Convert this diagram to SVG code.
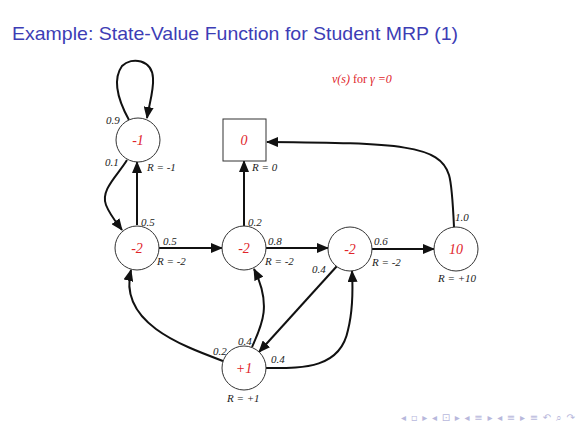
<svg xmlns="http://www.w3.org/2000/svg" width="580" height="435" viewBox="0 0 580 435">
<style>
.node{fill:#fff;stroke:#333;stroke-width:1}
.val{font-family:"Liberation Serif",serif;font-style:italic;font-size:14px;fill:#e0242a;text-anchor:middle}
.lbl{font-family:"Liberation Serif",serif;font-style:italic;font-size:11px;fill:#222}
.edge{fill:none;stroke:#111;stroke-width:2}
.nav{font-family:"DejaVu Sans",sans-serif;font-size:10px;fill:#b8b8dc}
</style>
<defs>
<marker id="arr" viewBox="0 0 12 10" refX="11" refY="5" markerWidth="12" markerHeight="10" markerUnits="userSpaceOnUse" orient="auto">
<path d="M0,0 L12,5 L0,10 z" fill="#111"/>
</marker>
</defs>
<rect width="580" height="435" fill="#fff"/>
<text x="12" y="40" font-family="Liberation Sans,sans-serif" font-size="19" fill="#3d3db5" textLength="446" lengthAdjust="spacingAndGlyphs">Example: State-Value Function for Student MRP (1)</text>
<text x="332" y="83" font-family="Liberation Serif,serif" font-size="12" fill="#e0242a"><tspan font-style="italic">v(s)</tspan> for <tspan font-style="italic">γ =0</tspan></text>
<g id="connectors">
<path class="edge" marker-end="url(#arr)" d="M129 120 C118 100,112 80,122 66 C132 56,152 60,153 78 C154 90,149 105,147 118"/>
<path class="edge" marker-end="url(#arr)" d="M127 160 C118 175,100 190,106 205 C110 215,116 222,122 230"/>
<path class="edge" marker-end="url(#arr)" d="M137 225 L137 162"/>
<path class="edge" marker-end="url(#arr)" d="M159 248 L222 248"/>
<path class="edge" marker-end="url(#arr)" d="M244 226 L244 161"/>
<path class="edge" marker-end="url(#arr)" d="M266 248 L328 248"/>
<path class="edge" marker-end="url(#arr)" d="M372 249 L434 249"/>
<path class="edge" marker-end="url(#arr)" d="M454 227 C453 205,452 185,449 175 C440 145,400 143,267 142"/>
<path class="edge" marker-end="url(#arr)" d="M337 266 L259 352"/>
<path class="edge" marker-end="url(#arr)" d="M223 361 C180 345,118 322,131 270"/>
<path class="edge" marker-end="url(#arr)" d="M252 347 C262 325,272 305,254 269"/>
<path class="edge" marker-end="url(#arr)" d="M266 368 C300 368,340 370,348 330 C353 310,353 290,352 271"/>
</g>
<g id="c1"><circle class="node" cx="138" cy="140" r="22"/><text class="val" x="138" y="145">-1</text><text class="lbl" x="147" y="171">R = -1</text></g>
<g id="sleep"><rect class="node" x="223" y="119" width="43" height="42"/><text class="val" x="244" y="145">0</text><text class="lbl" x="252" y="171">R = 0</text></g>
<g id="c2"><circle class="node" cx="137" cy="248" r="22"/><text class="val" x="137" y="253">-2</text><text class="lbl" x="157" y="265">R = -2</text></g>
<g id="c3"><circle class="node" cx="244" cy="248" r="22"/><text class="val" x="244" y="253">-2</text><text class="lbl" x="265" y="265">R = -2</text></g>
<g id="c3b"><circle class="node" cx="350" cy="249" r="22"/><text class="val" x="350" y="254">-2</text><text class="lbl" x="372" y="266">R = -2</text></g>
<g id="pass"><circle class="node" cx="456" cy="249" r="22"/><text class="val" x="456" y="254">10</text><text class="lbl" x="438" y="282">R = +10</text></g>
<g id="pub"><circle class="node" cx="244" cy="368" r="22"/><text class="val" x="244" y="373">+1</text><text class="lbl" x="227" y="402">R = +1</text></g>
<g id="edge-labels">
<text class="lbl" x="106" y="124">0.9</text>
<text class="lbl" x="105" y="166">0.1</text>
<text class="lbl" x="141" y="226">0.5</text>
<text class="lbl" x="163" y="245">0.5</text>
<text class="lbl" x="248" y="226">0.2</text>
<text class="lbl" x="268" y="245">0.8</text>
<text class="lbl" x="374" y="245">0.6</text>
<text class="lbl" x="455" y="221">1.0</text>
<text class="lbl" x="312" y="273">0.4</text>
<text class="lbl" x="213" y="355">0.2</text>
<text class="lbl" x="238" y="345">0.4</text>
<text class="lbl" x="271" y="363">0.4</text>
</g>
<g id="nav">
<text class="nav" x="401" y="421" textLength="174" lengthAdjust="spacing">◂ ▫ ▸ ◂ ⊡ ▸ ◂ ≡ ▸ ◂ ≡ ▸  ≡  ↶ ⌕ ↷</text>
</g>
</svg>
